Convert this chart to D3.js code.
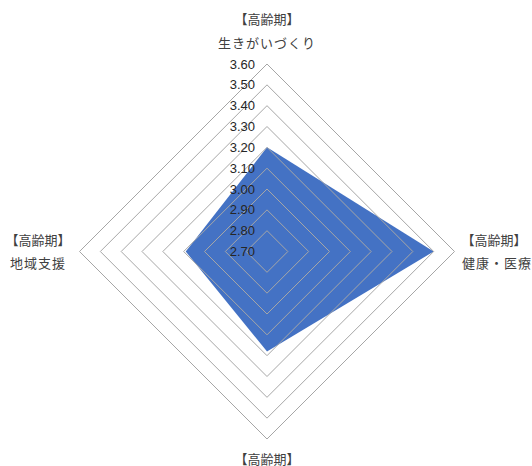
<!DOCTYPE html>
<html><head><meta charset="utf-8">
<script src="https://cdn.jsdelivr.net/npm/d3@7"></script>
<style>html,body{margin:0;padding:0;background:#fff;}svg{display:block;}</style>
</head><body>
<svg id="chart" width="532" height="466"></svg>
<script>
const categoriesLine1 = ["【高齢期】", "【高齢期】", "【高齢期】", "【高齢期】"];
const categoriesLine2 = ["生きがいづくり", "健康・医療", "", "地域支援"];
const values = [3.20, 3.50, 3.18, 3.09];
const tickValues = [2.70, 2.80, 2.90, 3.00, 3.10, 3.20, 3.30, 3.40, 3.50, 3.60];

const svg = d3.select("#chart");
const cx = 267, cy = 251.5, R = 187.5;
const r = d3.scaleLinear().domain([2.7, 3.6]).range([0, R]);
const angle = d3.scaleLinear().domain([0, categoriesLine1.length]).range([0, 2 * Math.PI]);
const g = svg.append("g").attr("transform", `translate(${cx},${cy})`);

const pt = (i, v) => {
  const a = angle(i);
  return [Math.sin(a) * r(v), -Math.cos(a) * r(v)];
};

// data polygon
const line = d3.line().curve(d3.curveLinearClosed);
g.append("path")
  .attr("d", line(values.map((v, i) => pt(i, v))))
  .attr("fill", "#4472C4");

// grid rings (drawn on top)
tickValues.slice(1).forEach(t => {
  g.append("path")
    .attr("d", line(categoriesLine1.map((c, i) => pt(i, t))))
    .attr("fill", "none")
    .attr("stroke", "#a6a6a6")
    .attr("stroke-width", 1);
});

// tick labels
g.selectAll("text.tick").data(tickValues).join("text")
  .attr("class", "tick")
  .attr("x", -12)
  .attr("y", d => -r(d))
  .attr("text-anchor", "end")
  .attr("dominant-baseline", "central")
  .attr("font-family", "'Liberation Sans', Arial, sans-serif")
  .attr("font-size", 13)
  .attr("fill", "#262626")
  .text(d => d.toFixed(2));

// category labels
const labelPos = [
  {x: 0, y1: -233, y2: -209},
  {x: 227, y1: -12.5, y2: 10.5},
  {x: 0, y1: 206.5, y2: 230.5},
  {x: -229, y1: -12.5, y2: 10.5}
];
categoriesLine1.forEach((c, i) => {
  const p = labelPos[i];
  const t = g.append("g").attr("font-family", "'Noto Sans CJK JP', sans-serif")
    .attr("font-size", 13).attr("fill", "#404040").attr("text-anchor", "middle");
  t.append("text").attr("x", p.x).attr("y", p.y1).attr("dominant-baseline", "central").text(c);
  if (categoriesLine2[i]) {
    t.append("text").attr("x", p.x + (i === 1 ? 3 : 0)).attr("y", p.y2).attr("dominant-baseline", "central")
      .attr("letter-spacing", 1).text(categoriesLine2[i]);
  }
});
</script>
</body></html>
